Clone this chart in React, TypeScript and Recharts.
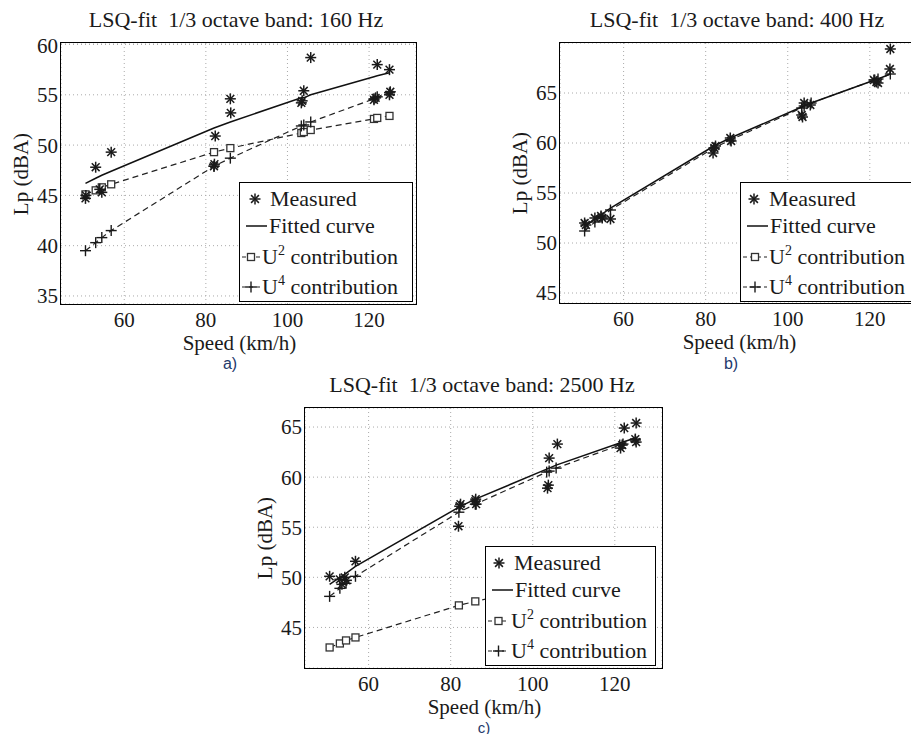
import React from "react";
import { ComposedChart, Scatter, XAxis, YAxis, CartesianGrid } from "recharts";

// speeds (km/h) of the pass-bys, shared by the fitted/contribution curves
const SPEEDS = [50.5, 53.0, 54.5, 56.8, 82.0, 86.0, 103.4, 104.0, 105.7, 121.2, 122.0, 125.0];
const X_TICKS = [60, 80, 100, 120];

// 160 Hz
const FIT_160 = [46.2, 46.7, 47.0, 47.4, 51.7, 52.3, 54.7, 54.7, 55.0, 56.8, 56.9, 57.2];
const U2_160 = [45.1, 45.5, 45.8, 46.1, 49.3, 49.7, 51.2, 51.3, 51.5, 52.6, 52.7, 52.9];
const U4_160 = [39.5, 40.3, 40.8, 41.5, 47.9, 48.7, 51.9, 52.0, 52.3, 54.6, 54.8, 55.2];
const MEAS_160 = [
  [50.5, 44.7], [50.6, 45.0], [53.0, 47.8], [54.0, 45.6], [54.5, 45.3], [56.8, 49.3],
  [82.0, 47.9], [82.1, 48.1], [82.3, 50.9], [86.0, 54.6], [86.1, 53.2],
  [103.4, 54.2], [103.6, 54.4], [104.0, 55.4], [105.7, 58.7],
  [121.2, 54.5], [121.6, 54.7], [122.0, 58.0], [125.0, 57.5], [125.0, 55.0], [125.2, 55.3],
];

// 400 Hz (U2 part lies below the axis range)
const FIT_400 = [51.6, 52.4, 52.8, 53.5, 59.7, 60.5, 63.6, 63.7, 64.0, 66.3, 66.4, 66.9];
const U4_400 = [51.2, 52.1, 52.6, 53.3, 59.5, 60.3, 63.5, 63.7, 64.0, 66.3, 66.4, 66.9];
const MEAS_400 = [
  [50.5, 52.0], [50.8, 51.8], [53.0, 52.5], [54.5, 52.7], [54.8, 52.5], [56.8, 52.4],
  [81.8, 59.0], [82.1, 59.5], [82.4, 59.7], [86.0, 60.5], [86.2, 60.2],
  [103.4, 62.8], [103.6, 62.6], [104.0, 64.0], [105.5, 63.8],
  [121.0, 66.3], [121.6, 66.1], [122.0, 66.0], [125.0, 69.4], [124.9, 67.4],
];

// 2500 Hz
const FIT_2500 = [49.3, 50.0, 50.4, 51.1, 57.0, 57.8, 60.8, 60.9, 61.2, 63.4, 63.5, 63.9];
const U2_2500 = [43.0, 43.4, 43.7, 44.0, 47.2, 47.6, 49.2, 49.3, 49.4, 50.6, 50.7, 50.9];
const U4_2500 = [48.1, 48.9, 49.4, 50.1, 56.5, 57.3, 60.5, 60.6, 60.9, 63.2, 63.3, 63.7];
const MEAS_2500 = [
  [50.5, 50.1], [53.0, 49.8], [53.5, 49.3], [54.2, 50.0], [54.6, 49.7], [56.8, 51.6],
  [81.9, 55.1], [82.2, 57.1], [82.4, 57.3], [86.0, 57.6], [86.2, 57.3], [86.1, 57.8],
  [103.6, 58.9], [103.8, 59.2], [104.0, 61.9], [106.0, 63.3],
  [121.4, 62.9], [121.8, 63.2], [122.3, 64.9], [125.2, 65.4], [125.2, 63.5], [125.0, 63.8],
];

const SERIF = "'Liberation Serif', 'Times New Roman', serif";
const INK = "#1a1a1a";

const toPts = (ys: number[]) => ys.map((y, i) => ({ x: SPEEDS[i], y }));
const pairs = (p: number[][]) => p.map(([x, y]) => ({ x, y }));

const StarMark = ({ cx, cy }: any) => {
  const r = 5.5, d = 3.9;
  return (
    <g stroke={INK} strokeWidth={1.5}>
      <line x1={cx - r} y1={cy} x2={cx + r} y2={cy} />
      <line x1={cx} y1={cy - r} x2={cx} y2={cy + r} />
      <line x1={cx - d} y1={cy - d} x2={cx + d} y2={cy + d} />
      <line x1={cx - d} y1={cy + d} x2={cx + d} y2={cy - d} />
    </g>
  );
};
const SquareMark = ({ cx, cy }: any) => (
  <rect x={cx - 3.5} y={cy - 3.5} width={7} height={7} fill="#fff" stroke="#333" strokeWidth={1.3} />
);
const PlusMark = ({ cx, cy }: any) => (
  <g stroke={INK} strokeWidth={1.4}>
    <line x1={cx - 5.5} y1={cy} x2={cx + 5.5} y2={cy} />
    <line x1={cx} y1={cy - 5.5} x2={cx} y2={cy + 5.5} />
  </g>
);
const NoMark = () => <g />;

const dashed = { stroke: "#222", strokeWidth: 1.2, strokeDasharray: "6 4" };
const solid = { stroke: "#111", strokeWidth: 1.5 };

function Text({ x, y, size, children, rotate, color, family }: any) {
  return (
    <div
      style={{
        position: "absolute", left: x, top: y, whiteSpace: "pre", lineHeight: 1,
        fontFamily: family || SERIF, fontSize: size, color: color || INK,
        transform: `translate(-50%, -50%)${rotate ? " rotate(-90deg)" : ""}`,
      }}
    >
      {children}
    </div>
  );
}

function Legend({ left, top, width, textX }: any) {
  const rowY = [16, 43, 74, 104];
  const lbl = (i: number, body: any) => (
    <div style={{ position: "absolute", left: textX[i], top: rowY[i] - 11, fontSize: 22, lineHeight: "22px", whiteSpace: "nowrap" }}>
      {body}
    </div>
  );
  const sup = (s: string) => <span style={{ fontSize: 14, position: "relative", top: -9 }}>{s}</span>;
  const symEnd = (i: number) => textX[i] - 2;
  return (
    <div style={{ position: "absolute", left, top, width, height: 118, background: "#fff", border: "1.5px solid #000", fontFamily: SERIF, color: INK }}>
      <svg width={width} height={118} style={{ position: "absolute", left: 0, top: 0 }}>
        <StarMark cx={textX[0] - 15} cy={rowY[0]} />
        <line x1={6} x2={symEnd(1)} y1={rowY[1]} y2={rowY[1]} {...solid} />
        <line x1={2} x2={symEnd(2)} y1={rowY[2]} y2={rowY[2]} {...dashed} strokeDasharray="4 3" />
        <SquareMark cx={(2 + symEnd(2)) / 2} cy={rowY[2]} />
        <line x1={2} x2={symEnd(3)} y1={rowY[3]} y2={rowY[3]} {...dashed} strokeDasharray="4 3" />
        <PlusMark cx={(2 + symEnd(3)) / 2} cy={rowY[3]} />
      </svg>
      {lbl(0, "Measured")}
      {lbl(1, "Fitted curve")}
      {lbl(2, <>U{sup("2")} contribution</>)}
      {lbl(3, <>U{sup("4")} contribution</>)}
    </div>
  );
}

function Panel({ box, yDomain, yTicks, meas, fit, u2, u4, title, caption, legend }: any) {
  const [px0, py0, px1, py1] = box;
  const w = px1 - px0 + 70;
  const h = py1 - py0 + 45;
  const cx = (px0 + px1) / 2;
  const cy = (py0 + py1) / 2;
  const tickStyle = { fontSize: 21, fill: INK, fontFamily: SERIF };
  return (
    <>
      <div style={{ position: "absolute", left: px0 - 60, top: py0 - 10 }}>
        <ComposedChart width={w} height={h} margin={{ top: 10, right: 10, bottom: 0, left: 0 }}>
          <CartesianGrid stroke="#aaa" strokeDasharray="1 3" />
          <XAxis
            type="number" dataKey="x" domain={[44.5, 131.5]} ticks={X_TICKS} allowDataOverflow
            height={35} tickLine={false} axisLine={false} tickSize={0} tickMargin={8} tick={tickStyle}
          />
          <YAxis
            type="number" dataKey="y" domain={yDomain} ticks={yTicks} allowDataOverflow
            width={60} tickLine={false} axisLine={false} tickSize={0} tickMargin={3} tick={tickStyle}
          />
          {u2 && <Scatter data={toPts(u2)} line={dashed} lineType="joint" shape={SquareMark} isAnimationActive={false} />}
          {u4 && <Scatter data={toPts(u4)} line={dashed} lineType="joint" shape={PlusMark} isAnimationActive={false} />}
          <Scatter data={toPts(fit)} line={solid} lineType="joint" shape={NoMark} isAnimationActive={false} />
          <Scatter data={pairs(meas)} shape={StarMark} isAnimationActive={false} />
        </ComposedChart>
      </div>
      <div style={{ position: "absolute", left: px0 - 1, top: py0 - 1, width: px1 - px0, height: py1 - py0, border: "1.5px solid #000", pointerEvents: "none" }} />
      <Legend {...legend} />
      <Text x={title[1]} y={title[2]} size={22}>{title[0]}</Text>
      <Text x={px0 - 40} y={cy} size={21} rotate>Lp (dBA)</Text>
      <Text x={cx + 1} y={py1 + 39} size={21}>Speed (km/h)</Text>
      <Text x={caption[1]} y={caption[2]} size={caption[3]} color="#24396b" family="'Liberation Sans', Arial, sans-serif">{caption[0]}</Text>
    </>
  );
}

export default function App() {
  return (
    <div style={{ position: "absolute", left: 0, top: 0, width: 911, height: 734, overflow: "hidden", background: "#fff" }}>
      <Panel
        box={[61, 43, 416, 304]} yDomain={[34.2, 60.15]} yTicks={[35, 40, 45, 50, 55, 60]}
        meas={MEAS_160} fit={FIT_160} u2={U2_160} u4={U4_160}
        title={["LSQ-fit  1/3 octave band: 160 Hz", 236, 20]} caption={["a)", 230, 364, 16]}
        legend={{ left: 239, top: 182, width: 172, textX: [30, 29, 22, 22] }}
      />
      <Panel
        box={[560, 43, 917, 303]} yDomain={[44, 70]} yTicks={[45, 50, 55, 60, 65]}
        meas={MEAS_400} fit={FIT_400} u2={null} u4={U4_400}
        title={["LSQ-fit  1/3 octave band: 400 Hz", 737, 20]} caption={["b)", 731, 364, 16]}
        legend={{ left: 740, top: 182, width: 185, textX: [28, 29, 28, 28] }}
      />
      <Panel
        box={[305, 408, 662, 668]} yDomain={[40.95, 66.9]} yTicks={[45, 50, 55, 60, 65]}
        meas={MEAS_2500} fit={FIT_2500} u2={U2_2500} u4={U4_2500}
        title={["LSQ-fit  1/3 octave band: 2500 Hz", 482, 385]} caption={["c)", 484, 727, 15]}
        legend={{ left: 485, top: 546, width: 169, textX: [28, 29, 25, 25] }}
      />
    </div>
  );
}
